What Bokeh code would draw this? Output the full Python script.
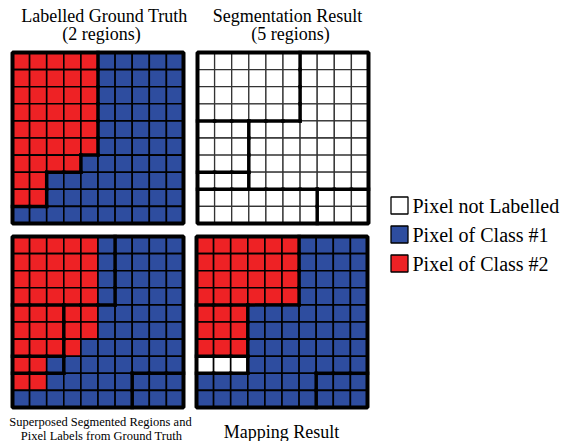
from bokeh.plotting import figure
from bokeh.models import Range1d, ColumnDataSource
from bokeh.core.properties import value
from bokeh.embed import file_html
from bokeh.resources import INLINE

# ---------------- data ----------------
# class labels: R = class #2 (red), B = class #1 (blue), W = not labelled
ground_truth = [
    "RRRRRBBBBB",
    "RRRRRBBBBB",
    "RRRRRBBBBB",
    "RRRRRBBBBB",
    "RRRRRBBBBB",
    "RRRRRBBBBB",
    "RRRRBBBBBB",
    "RRBBBBBBBB",
    "RRBBBBBBBB",
    "BBBBBBBBBB",
]
# segmentation regions as drawn in the "Segmentation Result" panel
segmentation_drawn = [
    "1111114444",
    "1111114444",
    "1111114444",
    "1111114444",
    "2224444444",
    "2224444444",
    "2224444444",
    "3334444444",
    "6666666555",
    "6666666555",
]
# the 5 segmented regions used in the superposition / mapping
segmentation = [
    "1111114444",
    "1111114444",
    "1111114444",
    "1111114444",
    "2224444444",
    "2224444444",
    "2224444444",
    "3334444444",
    "4444444555",
    "4444444555",
]
empty = ["WWWWWWWWWW"] * 10
mapping_result = [
    "RRRRRRBBBB",
    "RRRRRRBBBB",
    "RRRRRRBBBB",
    "RRRRRRBBBB",
    "RRRBBBBBBB",
    "RRRBBBBBBB",
    "RRRBBBBBBB",
    "WWWBBBBBBB",
    "BBBBBBBBBB",
    "BBBBBBBBBB",
]
titles_top = [("Labelled Ground Truth", "(2 regions)"), ("Segmentation Result", "(5 regions)")]
caption_superposed = ["Superposed Segmented Regions and", "Pixel Labels from Ground Truth"]
caption_mapping = "Mapping Result"
legend_labels = ["Pixel not Labelled", "Pixel of Class #1", "Pixel of Class #2"]
legend_keys = ["W", "B", "R"]

COLORS = {"R": "#EE2225", "B": "#2E4D9F", "W": "#FFFFFF"}
FONT = value("Liberation Serif")

# ---------------- figure ----------------
W, H = 563, 441
p = figure(width=W, height=H, x_range=Range1d(0, W), y_range=Range1d(H, 0),
           output_backend="svg", toolbar_location=None,
           x_axis_type=None, y_axis_type=None, min_border=0)
p.outline_line_color = None
p.background_fill_color = "white"
p.border_fill_color = "white"
p.xgrid.visible = False
p.ygrid.visible = False

CELL = 17.1
N = 10


def draw_panel(x0, y0, labels, regions, grid_color, grid_width):
    left, right, top, bottom, fill = [], [], [], [], []
    for r in range(N):
        for c in range(N):
            left.append(x0 + c * CELL)
            right.append(x0 + (c + 1) * CELL)
            top.append(y0 + r * CELL)
            bottom.append(y0 + (r + 1) * CELL)
            fill.append(COLORS[labels[r][c]])
    src = ColumnDataSource(dict(left=left, right=right, top=top, bottom=bottom, fill=fill))
    p.quad(left="left", right="right", top="top", bottom="bottom", fill_color="fill",
           line_color=grid_color, line_width=grid_width, source=src)
    # thick region boundaries
    xs0, ys0, xs1, ys1 = [], [], [], []
    for r in range(N):
        for c in range(N):
            if c < N - 1 and regions[r][c] != regions[r][c + 1]:
                xs0.append(x0 + (c + 1) * CELL); xs1.append(x0 + (c + 1) * CELL)
                ys0.append(y0 + r * CELL); ys1.append(y0 + (r + 1) * CELL)
            if r < N - 1 and regions[r][c] != regions[r + 1][c]:
                xs0.append(x0 + c * CELL); xs1.append(x0 + (c + 1) * CELL)
                ys0.append(y0 + (r + 1) * CELL); ys1.append(y0 + (r + 1) * CELL)
    p.segment(x0=xs0, y0=ys0, x1=xs1, y1=ys1, line_color="black", line_width=3.5,
              line_cap="square")
    # outer border
    p.quad(left=[x0], right=[x0 + N * CELL], top=[y0], bottom=[y0 + N * CELL],
           fill_color=None, line_color="black", line_width=4)


draw_panel(12, 52, ground_truth, ground_truth, "black", 1.6)
draw_panel(197, 52, empty, segmentation_drawn, "#333333", 1.3)
draw_panel(12, 236, ground_truth, segmentation, "black", 1.6)
draw_panel(196, 236, mapping_result, segmentation, "black", 1.6)

# titles
p.text(x=[104, 287], y=[15, 15], text=[t[0] for t in titles_top], text_font=FONT,
       text_font_size="18px", text_align="center", text_baseline="middle", text_color="black")
p.text(x=[101, 290], y=[33, 33], text=[t[1] for t in titles_top], text_font=FONT,
       text_font_size="18px", text_align="center", text_baseline="middle", text_color="black")
# bottom captions
p.text(x=[100, 101], y=[421, 435], text=caption_superposed, text_font=FONT,
       text_font_size="12.5px", text_align="center", text_baseline="alphabetic", text_color="black")
p.text(x=[281], y=[431], text=[caption_mapping], text_font=FONT,
       text_font_size="18px", text_align="center", text_baseline="alphabetic", text_color="black")

# legend
ly = [205, 234, 263]
p.rect(x=[399] * 3, y=ly, width=17, height=17, fill_color=[COLORS[k] for k in legend_keys],
       line_color="black", line_width=1.3)
p.text(x=[412] * 3, y=ly, text=legend_labels, text_font=FONT, text_font_size="20px",
       text_align="left", text_baseline="middle", text_color="black")

open("out.html", "w").write(file_html(p, INLINE))
